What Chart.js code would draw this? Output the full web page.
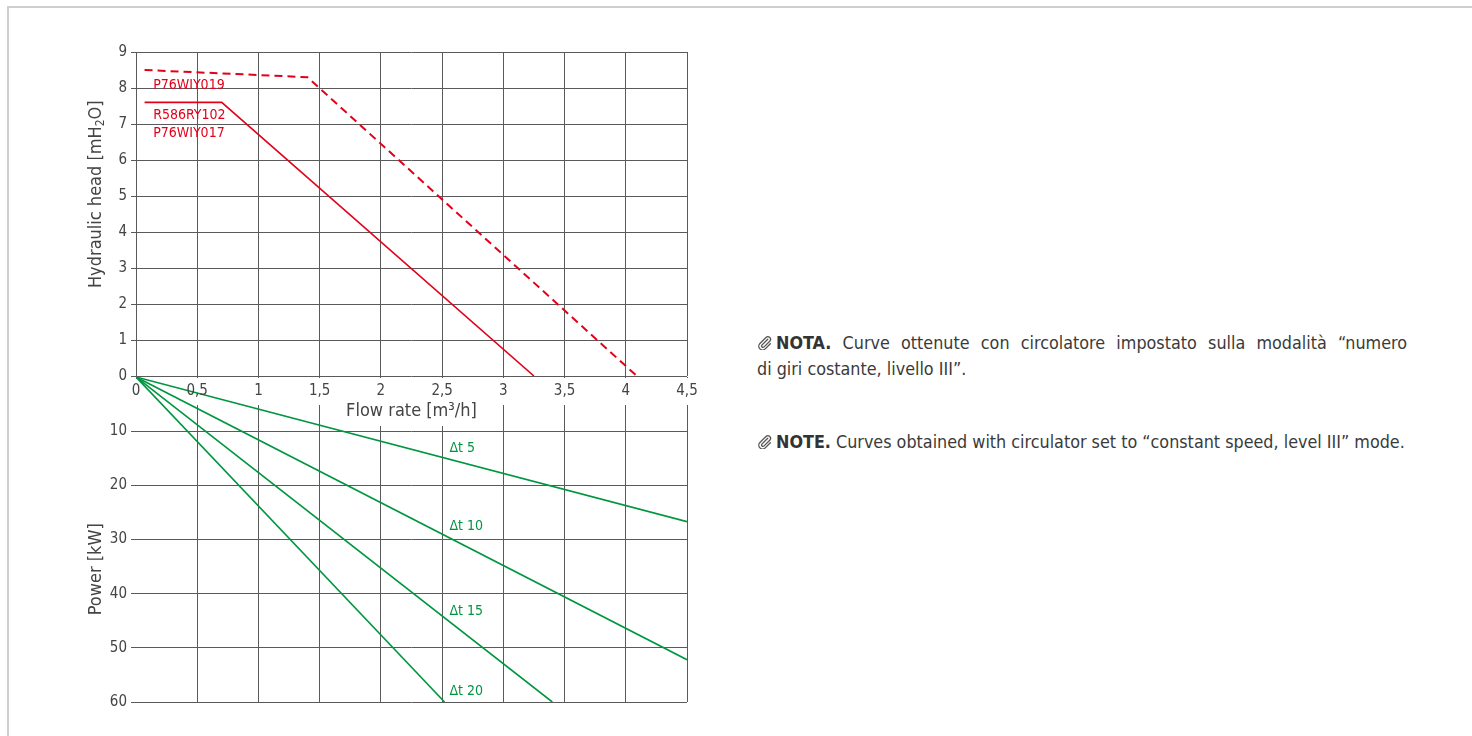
<!DOCTYPE html>
<html>
<head>
<meta charset="utf-8">
<script src="https://cdn.jsdelivr.net/npm/chart.js@4/dist/chart.umd.min.js"></script>
<style>
  html,body{margin:0;padding:0;background:#fff;overflow:hidden;}
  body{width:1472px;height:736px;position:relative;
       font-family:'DejaVu Sans Condensed','DejaVu Sans',sans-serif;font-stretch:condensed;}
  .frame{position:absolute;left:7px;top:6px;width:1500px;height:800px;border:2px solid #cfcfcf;}
  #headWrap{position:absolute;left:40px;top:30px;width:680px;height:400px;z-index:2;}
  #powerWrap{position:absolute;left:40px;top:360px;width:680px;height:360px;z-index:1;}
  .note{position:absolute;left:757px;width:650px;color:#3a3a3a;font-size:17.8px;line-height:26px;}
  .note b{color:#333;}
  .just{text-align:justify;text-align-last:justify;}
  .clip{display:inline-block;width:15px;height:15px;vertical-align:-1px;margin-right:4px;}
</style>
</head>
<body>
<div class="frame"></div>
<div id="headWrap"><canvas id="headChart"></canvas></div>
<div id="powerWrap"><canvas id="powerChart"></canvas></div>

<div class="note" style="top:330px;">
  <div class="just"><svg class="clip" viewBox="0 0 16 16"><path d="M11.5 4.5 L5.2 10.8 a1.5 1.5 0 0 0 2.1 2.1 L13.6 6.6 a2.8 2.8 0 0 0 -4 -4 L3.1 9.1 a4 4 0 0 0 5.7 5.7 L14.2 9.4" fill="none" stroke="#555" stroke-width="1.4" stroke-linecap="round"/></svg><b>NOTA.</b> Curve ottenute con circolatore impostato sulla modalità “numero</div>
  <div>di giri costante, livello III”.</div>
</div>
<div class="note" style="top:429px;">
  <svg class="clip" viewBox="0 0 16 16"><path d="M11.5 4.5 L5.2 10.8 a1.5 1.5 0 0 0 2.1 2.1 L13.6 6.6 a2.8 2.8 0 0 0 -4 -4 L3.1 9.1 a4 4 0 0 0 5.7 5.7 L14.2 9.4" fill="none" stroke="#555" stroke-width="1.4" stroke-linecap="round"/></svg><b>NOTE.</b> Curves obtained with circulator set to “constant speed, level III” mode.
</div>

<script>
// ---------------- DATA ----------------
// pump head curves (flow m3/h -> head mH2O)
const solidFlow = [0.07, 0.70, 3.25];
const solidHead = [7.6, 7.6, 0];
const dashFlow  = [0.07, 1.40, 4.09];
const dashHead  = [8.5, 8.3, 0];
const headLabels = ["P76WIY019", "R586RY102", "P76WIY017"];
const headLabelFlow = [0.14, 0.14, 0.14];
const headLabelHead = [8.08, 7.25, 6.75];

// power lines (flow m3/h -> kW), one per delta t
const deltaT = ["Δt 5", "Δt 10", "Δt 15", "Δt 20"];
const powerStartFlow = [0, 0, 0, 0];
const powerStartKw   = [0, 0, 0, 0];
const powerEndFlow   = [4.5, 4.5, 3.40, 2.52];
const powerEndKw     = [26.7, 52.2, 60, 60];
const deltaLabelFlow = [2.56, 2.56, 2.56, 2.56];
const deltaLabelKw   = [13.2, 27.6, 43.2, 58];

const flowTicks  = [0, 0.5, 1, 1.5, 2, 2.5, 3, 3.5, 4, 4.5];
const headTicks  = [0, 1, 2, 3, 4, 5, 6, 7, 8, 9];
const powerTicks = [0, 10, 20, 30, 40, 50, 60];

const RED = "#e2001a", GREEN = "#009640", GRID = "#5a5a5a", TXT = "#444";
const FONT = "'DejaVu Sans Condensed','DejaVu Sans',sans-serif";

const pts = (xs, ys) => xs.map((x, i) => ({x: x, y: ys[i]}));

// text labels placed in data coordinates
const textLabels = {
  id: "textLabels",
  afterDatasetsDraw(chart, args, opts) {
    const {ctx, scales: {x, y}} = chart;
    ctx.save();
    ctx.font = opts.font;
    ctx.fillStyle = opts.color;
    ctx.textAlign = "left";
    ctx.textBaseline = "middle";
    opts.texts.forEach((t, i) => ctx.fillText(t, x.getPixelForValue(opts.xs[i]), y.getPixelForValue(opts.ys[i])));
    ctx.restore();
  }
};

// rotated y axis title; parts = [[text, isSubscript], ...], centred on value "at"
const yTitle = {
  id: "yTitle",
  afterDraw(chart, args, opts) {
    const {ctx, scales: {y}} = chart;
    const big = "18px " + FONT, small = "12px " + FONT;
    ctx.save();
    let w = 0;
    opts.parts.forEach(p => { ctx.font = p[1] ? small : big; w += ctx.measureText(p[0]).width; });
    ctx.translate(y.left + 56, y.getPixelForValue(opts.at));
    ctx.rotate(-Math.PI / 2);
    ctx.fillStyle = TXT;
    ctx.textBaseline = "middle";
    let cx = -w / 2;
    opts.parts.forEach(p => {
      ctx.font = p[1] ? small : big;
      ctx.fillText(p[0], cx, p[1] ? 5 : 0);
      cx += ctx.measureText(p[0]).width;
    });
    ctx.restore();
  }
};

// ---------------- HEAD CHART ----------------
new Chart(document.getElementById("headChart"), {
  type: "line",
  data: {
    datasets: [
      {data: pts(dashFlow, dashHead), borderColor: RED, borderWidth: 2, borderDash: [8, 5]},
      {data: pts(solidFlow, solidHead), borderColor: RED, borderWidth: 1.6}
    ]
  },
  options: {
    responsive: true, maintainAspectRatio: false, animation: false,
    layout: {padding: {top: 22, right: 33, left: 0, bottom: 0}},
    elements: {point: {radius: 0}, line: {tension: 0}},
    plugins: {
      legend: {display: false}, tooltip: {enabled: false},
      textLabels: {texts: headLabels, xs: headLabelFlow, ys: headLabelHead, color: RED, font: "14px " + FONT},
      yTitle: {parts: [["Hydraulic head [mH", false], ["2", true], ["O]", false]], at: 5.05}
    },
    scales: {
      x: {
        type: "linear", min: 0, max: 4.5,
        afterBuildTicks: s => { s.ticks = flowTicks.map(v => ({value: v})); },
        afterFit: s => { s.height = 54; },
        grid: {color: GRID, lineWidth: 1, drawTicks: false},
        border: {display: false},
        ticks: {color: TXT, padding: 6, font: {family: FONT, size: 15},
                maxRotation: 0, callback: v => String(v).replace(".", ",")},
        title: {display: true, text: "Flow rate [m³/h]", color: TXT,
                font: {family: FONT, size: 18}, padding: {top: 0, bottom: 8}}
      },
      y: {
        min: 0, max: 9,
        afterBuildTicks: s => { s.ticks = headTicks.map(v => ({value: v})); },
        afterFit: s => { s.width = 96; },
        grid: {color: GRID, lineWidth: 1, tickLength: 5},
        border: {display: false},
        ticks: {color: TXT, padding: 4, font: {family: FONT, size: 15}}
      }
    }
  },
  plugins: [textLabels, yTitle]
});

// white strip under the flow axis labels, drawn over the grid only
const labelStrip = {
  id: "labelStrip",
  beforeDatasetsDraw(chart) {
    const {ctx, chartArea: a} = chart;
    ctx.save();
    ctx.fillStyle = "#fff";
    ctx.fillRect(a.left - 10, a.top + 1, a.right - a.left + 20, 27);
    ctx.fillRect(a.left + 210, a.top + 20, 136, 29);
    ctx.restore();
  }
};

// ---------------- POWER CHART ----------------
new Chart(document.getElementById("powerChart"), {
  type: "line",
  data: {
    datasets: deltaT.map((name, i) => ({
      label: name,
      data: pts([powerStartFlow[i], powerEndFlow[i]], [powerStartKw[i], powerEndKw[i]]),
      borderColor: GREEN, borderWidth: 1.6
    }))
  },
  options: {
    responsive: true, maintainAspectRatio: false, animation: false,
    layout: {padding: {top: 17, right: 33, left: 0, bottom: 0}},
    elements: {point: {radius: 0}, line: {tension: 0}},
    plugins: {
      legend: {display: false}, tooltip: {enabled: false},
      textLabels: {texts: deltaT, xs: deltaLabelFlow, ys: deltaLabelKw, color: GREEN, font: "14px " + FONT},
      yTitle: {parts: [["Power [kW]", false]], at: 35.5}
    },
    scales: {
      x: {
        type: "linear", min: 0, max: 4.5,
        afterBuildTicks: s => { s.ticks = flowTicks.map(v => ({value: v})); },
        afterFit: s => { s.height = 18; },
        grid: {color: c => c.tick && c.tick.value === 0 ? "rgba(0,0,0,0)" : GRID, lineWidth: 1, drawTicks: false},
        border: {display: false},
        ticks: {display: false}
      },
      y: {
        reverse: true, min: 0, max: 60,
        afterBuildTicks: s => { s.ticks = powerTicks.map(v => ({value: v})); },
        afterFit: s => { s.width = 96; },
        grid: {color: c => c.tick && c.tick.value === 0 ? "rgba(0,0,0,0)" : GRID, lineWidth: 1, tickLength: 5},
        border: {display: false},
        ticks: {color: TXT, padding: 4, font: {family: FONT, size: 15},
                callback: v => v === 0 ? "" : v}
      }
    }
  },
  plugins: [labelStrip, textLabels, yTitle]
});
</script>
</body>
</html>
